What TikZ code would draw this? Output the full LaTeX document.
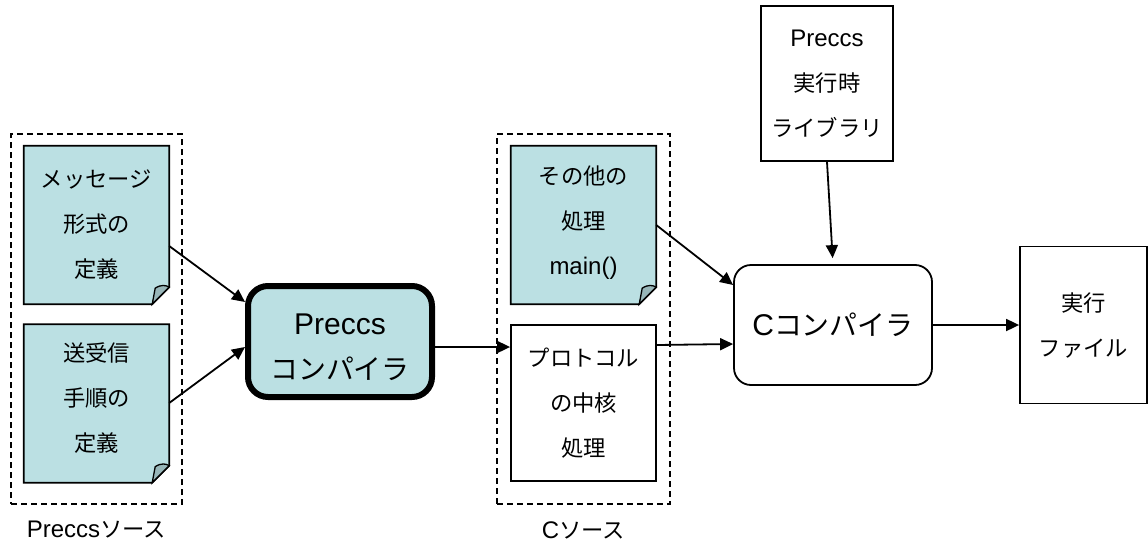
\documentclass[tikz,border=0pt]{standalone}
\usepackage{fontspec}
\setmainfont{Liberation Sans}
\newfontfamily\jp{Noto Sans CJK JP}[Scale=0.93]
\usetikzlibrary{arrows.meta}
\definecolor{docfill}{HTML}{BBE0E3}
\definecolor{foldfill}{HTML}{98B6B9}
\tikzset{
  sm/.style={font=\fontsize{24}{45}\selectfont, align=center, inner sep=0pt},
  big/.style={font=\fontsize{30}{45}\selectfont, align=center, inner sep=0pt},
  docnode/.style={sm, minimum width=145pt, minimum height=158pt},
  docline/.style={draw=black, line width=1.8pt, fill=docfill},
  plainbox/.style={sm, draw=black, line width=1.8pt, fill=white},
  grp/.style={draw=black, line width=1.8pt, dash pattern=on 6pt off 4pt},
  arr/.style={draw=black, line width=1.8pt, -{Triangle[length=13pt,width=12pt]}},
}
\newcommand{\docshape}[1]{%
  \draw[docline] (#1.north west) -- (#1.north east) -- ([yshift=17pt]#1.south east)
    -- ([xshift=-17pt]#1.south east) -- (#1.south west) -- cycle;
  \draw[docline, fill=foldfill, line width=1.3pt] ([xshift=-17pt]#1.south east)
    -- ([xshift=-14pt,yshift=16pt]#1.south east)
    .. controls ([xshift=-8pt,yshift=20pt]#1.south east) and ([xshift=-3pt,yshift=19pt]#1.south east)
    .. ([yshift=17pt]#1.south east) -- cycle;}
\begin{document}
\begin{tikzpicture}[x=1pt,y=-1pt]
\useasboundingbox (0,0) rectangle (1148,546);
% groups
\node[grp, minimum width=171pt, minimum height=370pt, inner sep=0pt] (g1) at (96.5,319) {};
\node[grp, minimum width=173pt, minimum height=370pt, inner sep=0pt] (g2) at (583.5,319) {};
\node[sm] (l1) at (96.5,530) {Preccs{\jp ソース}};
\node[sm] (l2) at (583.5,530) {C{\jp ソース}};
% documents
\node[docnode] (d1) at (96.5,225) {};
\docshape{d1}
\node[sm] (t1) at (d1) {\jp メッセージ\\\jp 形式の\\\jp 定義};
\node[docnode] (d2) at (96.5,403.5) {};
\docshape{d2}
\node[sm] (t2) at ([yshift=5pt]d2.center) {\jp 送受信\\\jp 手順の\\\jp 定義};
\node[docnode] (d3) at (583.5,225) {};
\docshape{d3}
\node[sm] (t3) at ([yshift=2pt]d3.center) {\jp その他の\\\jp 処理\\main()};
\node[plainbox, minimum width=145pt, minimum height=156pt] (b2) at (583.5,403) {\jp プロトコル\\\jp の中核\\\jp 処理};
% compiler
\node[big, draw=black, line width=6pt, fill=docfill, rounded corners=20pt,
      minimum width=184pt, minimum height=111pt] (pc) at (340,341.5) {};
\node[big] (tpc) at ([yshift=-6pt]pc.center) {Preccs\\\jp コンパイラ};
\node[plainbox, minimum width=132pt, minimum height=155pt] (lib) at (827,83.5) {Preccs\\\jp 実行時\\\jp ライブラリ};
\node[big, draw=black, line width=1.8pt, rounded corners=17pt, fill=white,
      minimum width=198pt, minimum height=120pt] (cc) at (833,325) {C{\jp コンパイラ}};
\node[plainbox, minimum width=127pt, minimum height=157pt] (exe) at (1083.5,325) {\jp 実行\\\jp ファイル};
% arrows
\draw[arr] ([yshift=-21pt]d1.east) -- ([yshift=39.5pt]pc.west);
\draw[arr] ([yshift=0.5pt]d2.east) -- ([yshift=-5.5pt]pc.west);
\draw[arr] ([yshift=-5.5pt]pc.east) -- ([yshift=56pt]b2.west);
\draw[arr] (d3.east) -- ([yshift=40pt]cc.west);
\draw[arr] ([yshift=58pt]b2.east) -- ([yshift=-19pt]cc.west);
\draw[arr, shorten >=6pt] (lib.south) -- (cc.north);
\draw[arr] (cc.east) -- (exe.west);
\end{tikzpicture}
\end{document}
